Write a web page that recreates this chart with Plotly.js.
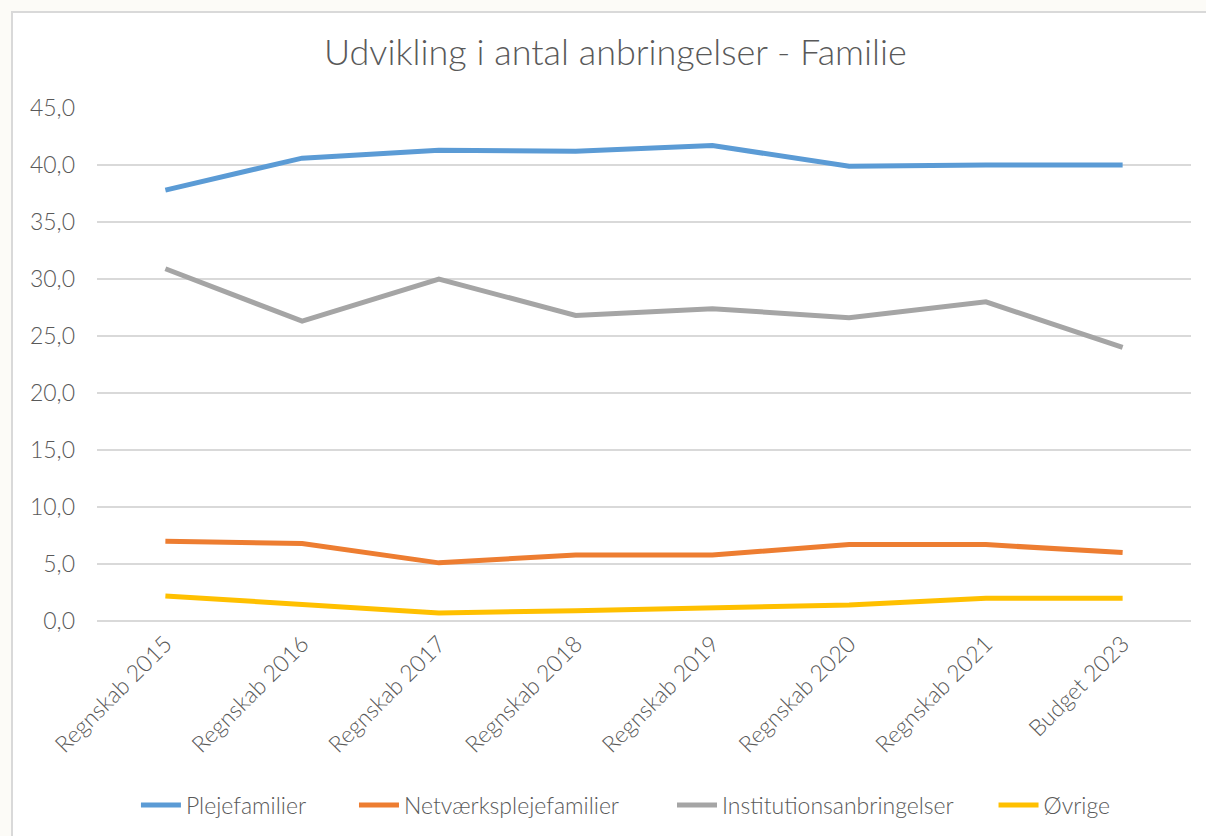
<!DOCTYPE html>
<html>
<head>
<meta charset="utf-8">
<script src="https://cdn.plot.ly/plotly-3.0.1.min.js"></script>
<style>
  html, body { margin: 0; padding: 0; background: #fcfbf7; width: 1206px; height: 836px; overflow: hidden; }
  #chart { position: absolute; left: 11px; top: 11px; width: 1195px; height: 825px;
           border-left: 2px solid #d9d9d9; border-top: 2px solid #d9d9d9; background: #ffffff; }
</style>
</head>
<body>
<div id="chart"></div>
<script>
const categories = ["Regnskab 2015", "Regnskab 2016", "Regnskab 2017", "Regnskab 2018",
                    "Regnskab 2019", "Regnskab 2020", "Regnskab 2021", "Budget 2023"];
const plejefamilier = [37.8, 40.6, 41.3, 41.2, 41.7, 39.9, 40.0, 40.0];
const netvaerksplejefamilier = [7.0, 6.8, 5.1, 5.8, 5.8, 6.7, 6.7, 6.0];
const institutionsanbringelser = [30.9, 26.3, 30.0, 26.8, 27.4, 26.6, 28.0, 24.0];
const oevrige = [2.2, 1.5, 0.7, 0.9, 1.2, 1.4, 2.0, 2.0];
const seriesNames = ["Plejefamilier", "Netværksplejefamilier", "Institutionsanbringelser", "Øvrige"];
const yTicks = [0, 5, 10, 15, 20, 25, 30, 35, 40, 45];

const colors = ["#5b9bd5", "#ed7d31", "#a5a5a5", "#ffc000"];
const allSeries = [plejefamilier, netvaerksplejefamilier, institutionsanbringelser, oevrige];
const legendIds = ["legend", "legend2", "legend3", "legend4"];
const legendX = [0.0356, 0.2349, 0.5256, 0.8195];

const traces = allSeries.map((vals, i) => ({
  type: "scatter",
  mode: "lines",
  x: categories,
  y: vals,
  name: seriesNames[i],
  legend: legendIds[i],
  line: { color: colors[i], width: 5 },
  hoverinfo: "x+y+name"
}));

const fontFam = "Lato, 'Open Sans', 'Noto Sans', sans-serif";

const layout = {
  width: 1193,
  height: 823,
  margin: { l: 84, r: 15, t: 95, b: 215, autoexpand: false },
  paper_bgcolor: "#ffffff",
  plot_bgcolor: "#ffffff",
  separators: ",.",
  font: { family: fontFam, color: "#595959", size: 22, weight: 300 },
  title: {
    text: "Udvikling i antal anbringelser - Familie",
    font: { family: fontFam, size: 36, color: "#595959", weight: 300 },
    x: 0.505, xanchor: "center",
    y: 0.952, yanchor: "middle"
  },
  xaxis: {
    type: "category",
    range: [-0.5, 7.5],
    tickangle: -45,
    showgrid: false,
    showline: false,
    ticks: "",
    tickfont: { size: 23, color: "#595959", family: fontFam, weight: 300 },
    ticklabelstandoff: 4
  },
  yaxis: {
    range: [0, 45],
    tickvals: yTicks,
    tickformat: ".1f",
    showgrid: true,
    gridcolor: "#d9d9d9",
    gridwidth: 1.5,
    zeroline: true,
    zerolinecolor: "#d9d9d9",
    zerolinewidth: 1.5,
    showline: false,
    ticks: "",
    tickfont: { size: 23, color: "#595959", family: fontFam, weight: 300 },
    ticklabelstandoff: 21
  },
  showlegend: true
};

legendIds.forEach((id, i) => {
  layout[id] = {
    orientation: "h",
    x: legendX[i], xanchor: "left",
    y: -0.359, yanchor: "middle",
    font: { size: 23, color: "#595959", family: fontFam, weight: 300 },
    bgcolor: "rgba(0,0,0,0)",
    itemwidth: 40
  };
});

Plotly.newPlot("chart", traces, layout, { displayModeBar: false, staticPlot: true });
</script>
</body>
</html>
